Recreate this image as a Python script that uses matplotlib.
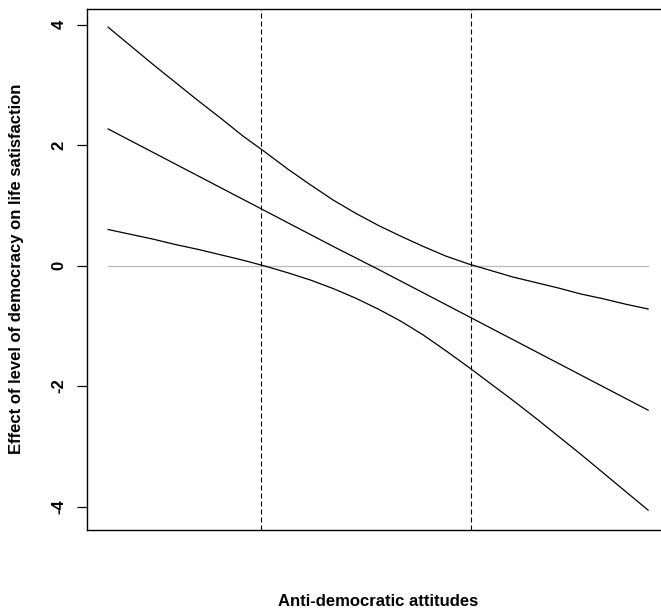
import numpy as np
import matplotlib
matplotlib.use("Agg")
import matplotlib.pyplot as plt

plt.rcParams['font.family'] = ['Liberation Sans', 'DejaVu Sans']

# moderator values (arbitrary scale, no x tick labels in the original)
attitude = [0, 1, 2, 3, 4, 5, 6, 7, 8, 9, 10, 11, 12]
# marginal effect
effect = [2.27, 1.88, 1.49, 1.10, 0.71, 0.32, -0.06, -0.45, -0.84, -1.23, -1.62, -2.01, -2.40]
# confidence bounds, read at half steps
band_x = [0, 0.5, 1, 1.5, 2, 2.5, 3, 3.5, 4, 4.5, 5, 5.5, 6,
          6.5, 7, 7.5, 8, 8.5, 9, 9.5, 10, 10.5, 11, 11.5, 12]
upper = [3.96, 3.65, 3.34, 3.04, 2.74, 2.45, 2.15, 1.88, 1.60, 1.34, 1.09, 0.87, 0.67,
         0.49, 0.32, 0.16, 0.03, -0.08, -0.19, -0.28, -0.37, -0.47, -0.55, -0.64, -0.72]
lower = [0.60, 0.52, 0.44, 0.35, 0.27, 0.18, 0.09, -0.01, -0.12, -0.24, -0.38, -0.54, -0.72,
         -0.92, -1.15, -1.41, -1.68, -1.96, -2.24, -2.53, -2.83, -3.13, -3.44, -3.75, -4.06]
# Johnson-Neyman points
jn_points = [3.4, 8.07]
yticks = [-4, -2, 0, 2, 4]

W, H = 661, 614
fig = plt.figure(figsize=(W / 100, H / 100), dpi=100)
left, right, top, bottom = 86.5, 669.7, 8.5, 530
ax = fig.add_axes([left / W, 1 - bottom / H, (right - left) / W, (bottom - top) / H])

ax.plot([attitude[0], attitude[-1]], [0, 0], color='#bebebe', lw=1.0)
for xv in jn_points:
    ax.axvline(xv, color='black', lw=0.8, linestyle=(0, (4.5, 2.7)))
ax.plot(band_x, upper, color='black', lw=0.9)
ax.plot(attitude, effect, color='black', lw=0.9)
ax.plot(band_x, lower, color='black', lw=0.9)

ax.set_xlim(-0.48, 12.48)
ax.set_ylim(-4.39, 4.27)
ax.set_xticks([])
ax.set_yticks(yticks)
ax.set_yticklabels([str(v) for v in yticks], rotation=90, va='center',
                   fontsize=12, fontweight='bold')
ax.tick_params(axis='y', length=7.2, width=0.9, pad=7)
for s in ax.spines.values():
    s.set_linewidth(1.0)

fig.text(378 / W, 1 - 601 / H, 'Anti-democratic attitudes', ha='center', va='center',
         fontsize=12, fontweight='bold')
fig.text(17 / W, 1 - 269 / H, 'Effect of level of democracy on life satisfaction',
         ha='center', va='center', rotation=90, fontsize=12, fontweight='bold')

fig.savefig('out.png', dpi=100)
